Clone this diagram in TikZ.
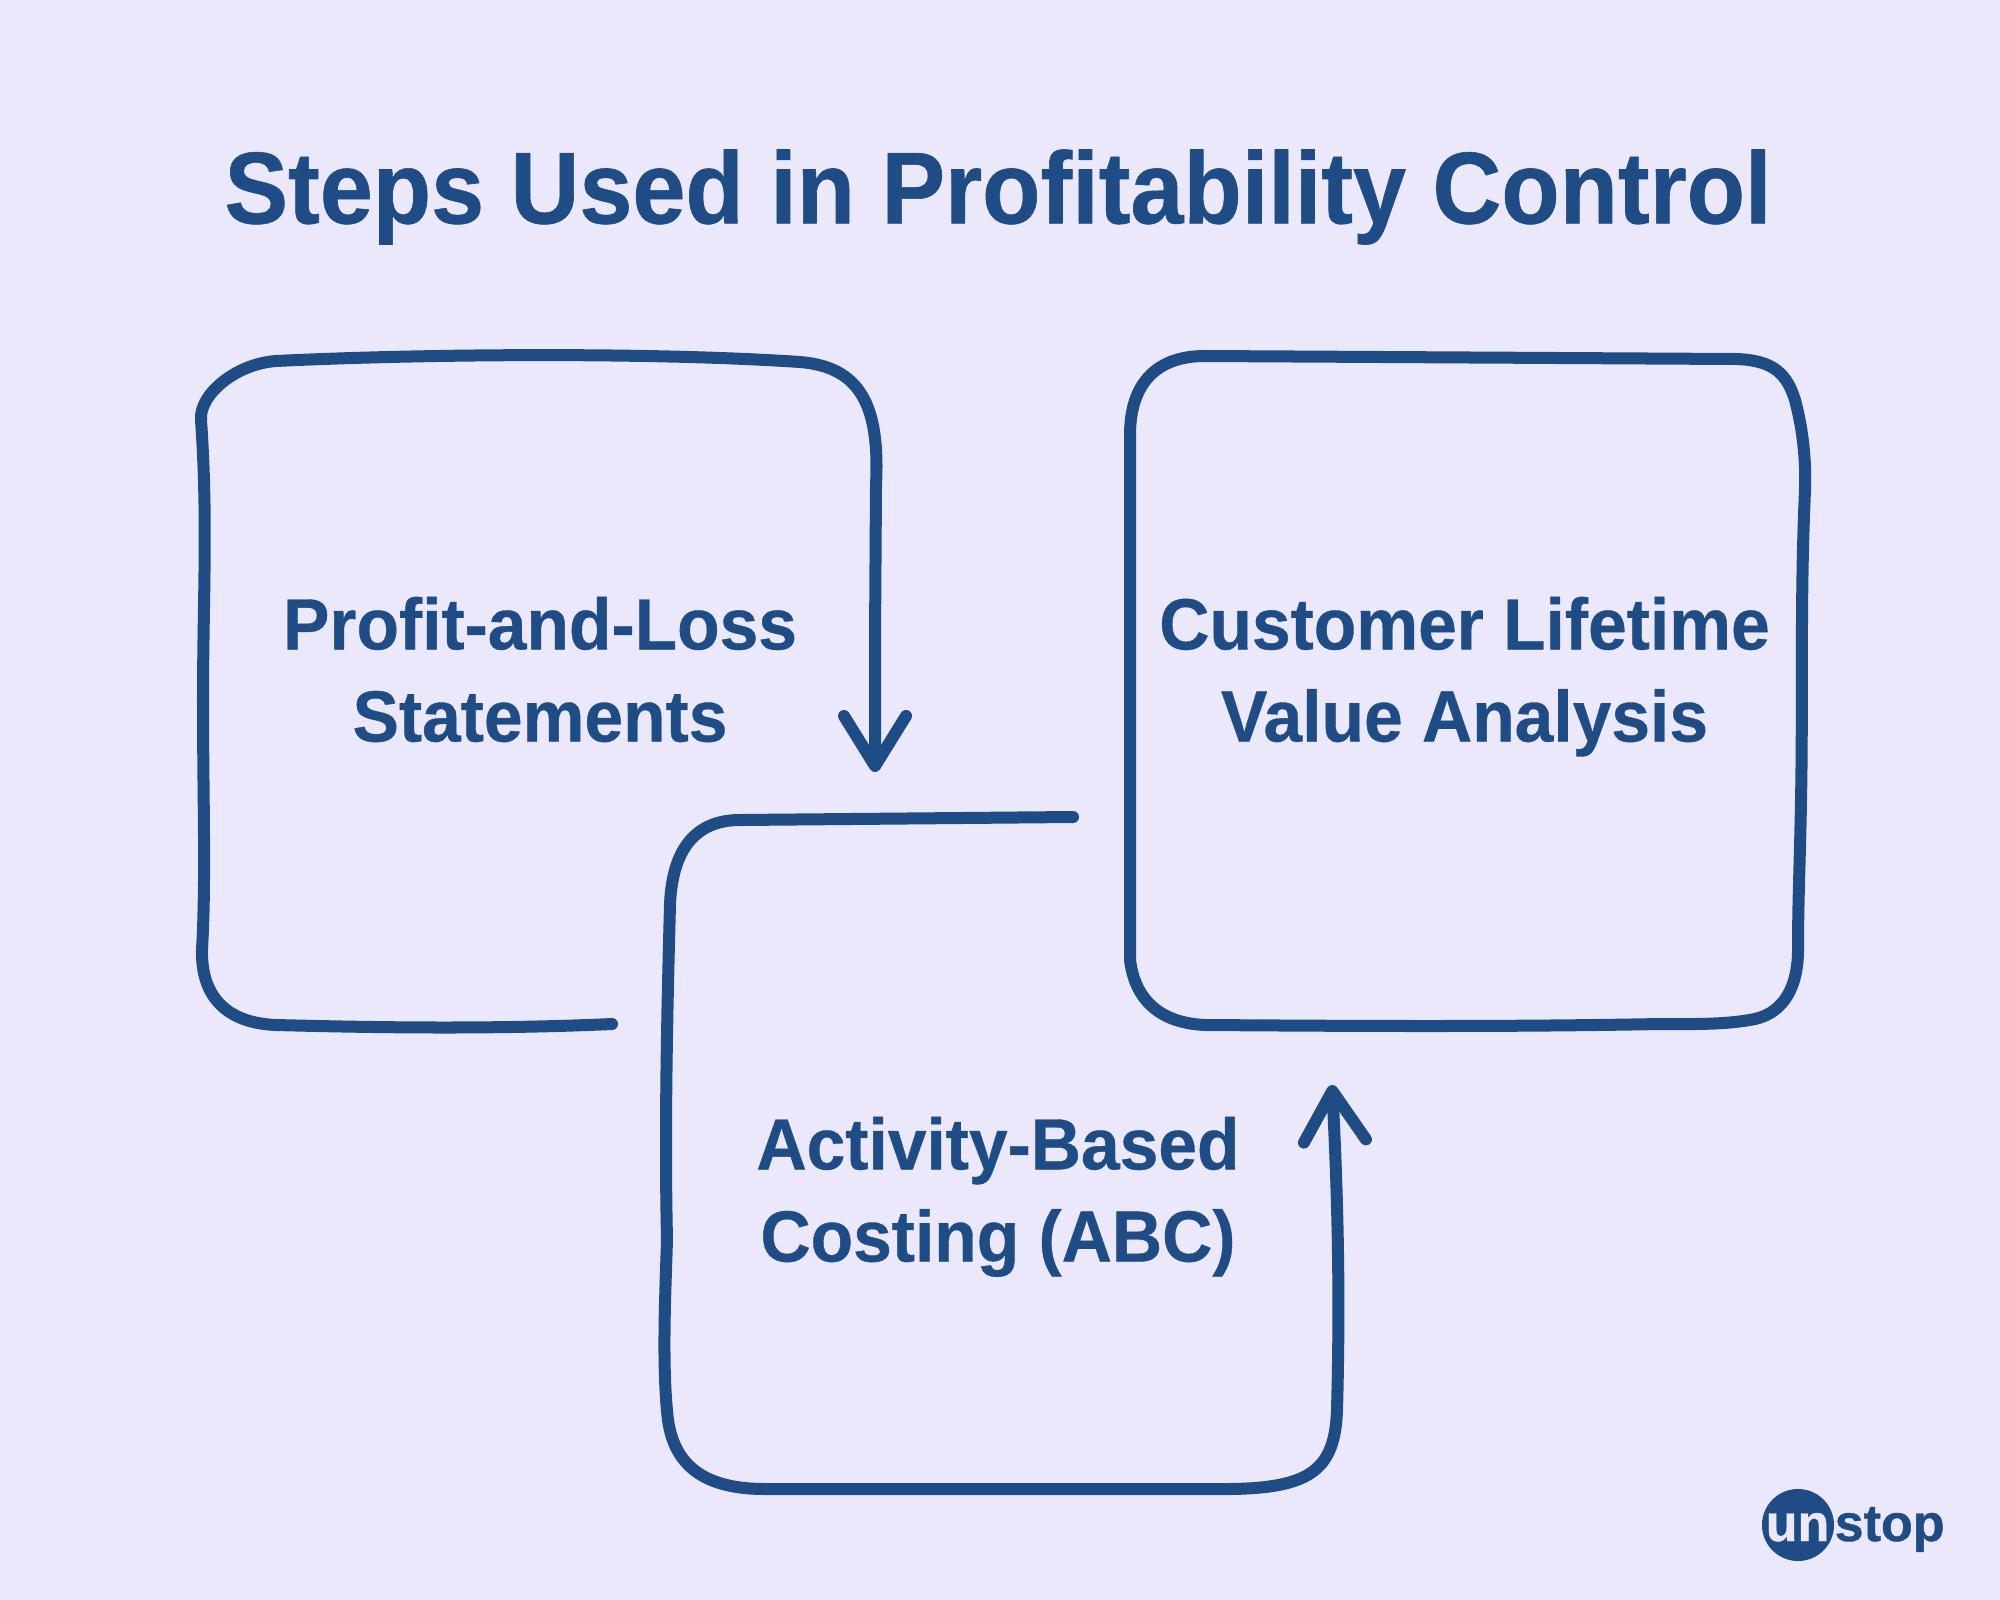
\documentclass[tikz,border=0pt]{standalone}
\usepackage{fontspec}
\setmainfont{Liberation Sans}
\newfontfamily\titlefont[FakeStretch=0.935,FakeBold=0.6]{Liberation Sans Bold}
\newfontfamily\labelfont[FakeStretch=0.96,FakeBold=0.5]{Liberation Sans Bold}
\newfontfamily\logofont[FakeBold=0.8]{Liberation Sans Bold}
\usetikzlibrary{arrows.meta}
\definecolor{pagebg}{HTML}{EBE8FC}
\definecolor{inkblue}{HTML}{1F4C85}

\begin{document}
\begin{tikzpicture}[
				        x=0.01cm,
				        y=-0.01cm,
				        >={Straight Barb[length=0.5cm,width=0.62cm,round]},
				        line cap=round,
				        line join=round,
				        sketch/.style={draw=inkblue, line width=0.12cm},
				        steplabel/.style={text=inkblue, font=\fontsize{20.6}{26.2}\selectfont\labelfont, align=center, inner sep=0pt},
				        titlelabel/.style={text=inkblue, font=\fontsize{29}{36}\selectfont\titlefont, inner sep=0pt},
				        logotext/.style={font=\fontsize{14.8}{16}\selectfont\logofont, inner sep=0pt}
				        ]
				        \fill[pagebg] (0,0) rectangle (2000,1600);
				        \useasboundingbox (0,0) rectangle (2000,1600);

				        \node[titlelabel] (title) at (998,197) {Steps Used in Profitability Control};

				        \node[steplabel] (pnl) at (540,683) {Profit-and-Loss\\Statements\strut};
				        \node[steplabel] (clv) [right of = pnl, node distance=9.24cm] {Customer Lifetime\\Value Analysis\strut};
				        \node[steplabel] (abc) at (998,1203) {Activity-Based\\Costing (ABC)\strut};

				        \coordinate (pnlstart) at (612,1024);
				        \coordinate (pnlend) at (875,772);
				        \coordinate (abcstart) at (1073,817);
				        \coordinate (abcend) at (1332,1085);

				        % left box, open at the bottom
				        \draw[sketch, ->] (pnlstart)
				              .. controls (500,1029) and (390,1028) .. (276,1025)
				              .. controls (225,1023) and (201,995) .. (202,950)
				              .. controls (206,880) and (203,800) .. (203,700)
				              .. controls (203,600) and (208,520) .. (201,420)
				              .. controls (199,395) and (235,364) .. (276,361)
				              .. controls (420,354) and (650,352) .. (800,362)
				              .. controls (860,367) and (880,405) .. (876,485)
				              -- (875,640) -- (pnlend);

				        % right box
				        \draw[sketch] (1130,960) -- (1130,435)
				              .. controls (1130,385) and (1155,356) .. (1205,356)
				              -- (1735,359)
				              .. controls (1775,360) and (1787,375) .. (1795,400)
				              .. controls (1803,430) and (1806,460) .. (1805,490)
				              .. controls (1800,600) and (1803,700) .. (1801,800)
				              .. controls (1800,860) and (1798,900) .. (1798,950)
				              .. controls (1798,985) and (1785,1012) .. (1755,1019)
				              .. controls (1725,1025) and (1690,1024) .. (1660,1024)
				              .. controls (1500,1027) and (1350,1026) .. (1205,1025)
				              .. controls (1160,1023) and (1135,1000) .. (1130,960);

				        % bottom box, ends in the up arrow
				        \draw[sketch, ->] (abcstart) -- (740,820)
				              .. controls (695,820) and (672,850) .. (670,905)
				              .. controls (666,1050) and (665,1150) .. (667,1240)
				              .. controls (665,1300) and (662,1370) .. (668,1420)
				              .. controls (675,1470) and (710,1489) .. (765,1489)
				              -- (1230,1489)
				              .. controls (1310,1488) and (1335,1470) .. (1337,1410)
				              .. controls (1340,1300) and (1338,1200) .. (abcend);

				        % logo
				        \node[circle, fill=inkblue, minimum size=0.72cm, inner sep=0pt] (logodisc) at (1798,1525) {};
				        \node[logotext, text=pagebg, anchor=base east] (logoun) at (1830,1541) {un};
				        \node[logotext, text=inkblue, anchor=base west] (logostop) at (1834,1541) {stop};
				    \end{tikzpicture}
\end{document}
